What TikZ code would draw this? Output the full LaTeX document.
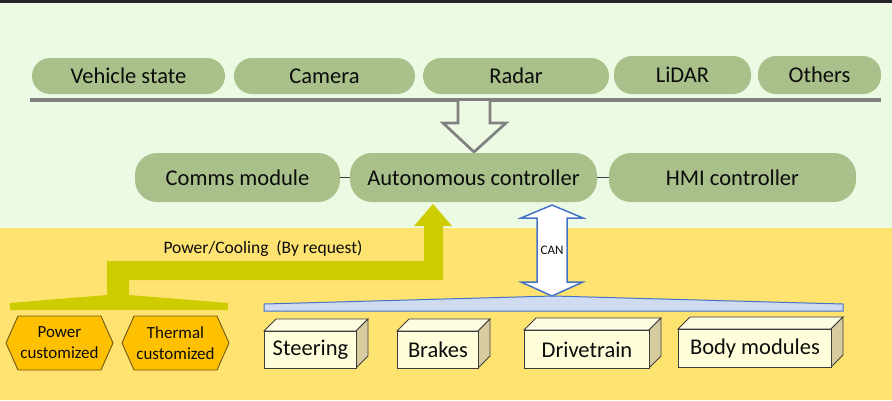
\documentclass[tikz,border=0pt]{standalone}
\usepackage{fontspec}
\setmainfont{Carlito}
\usetikzlibrary{shapes.symbols}
\definecolor{bglight}{RGB}{237,250,227}
\definecolor{bgyellow}{RGB}{255,227,112}
\definecolor{pillgreen}{RGB}{169,192,138}
\definecolor{busgray}{RGB}{128,128,128}
\definecolor{powergreen}{RGB}{204,204,0}
\definecolor{hexfill}{RGB}{255,192,0}
\definecolor{hexline}{RGB}{110,85,20}
\definecolor{busfill}{RGB}{207,219,240}
\definecolor{busline}{RGB}{68,114,196}
\definecolor{boxfront}{RGB}{255,253,218}
\definecolor{boxtop}{RGB}{255,253,225}
\definecolor{boxside}{RGB}{214,204,160}
\definecolor{inkdark}{RGB}{12,12,12}
\tikzset{
  pill/.style={fill=pillgreen, rounded corners=18pt, inner sep=0pt, text=inkdark,
    font=\fontsize{22.5}{27}\selectfont},
  bigpill/.style={pill, rounded corners=22pt, minimum height=49pt, minimum width=247pt},
  hexbox/.style={signal, signal to=west and east, signal pointer angle=132, draw=hexline,
    fill=hexfill, line width=0.9pt, minimum width=107pt, minimum height=54pt, inner sep=0pt,
    align=center, text=inkdark, font=\fontsize{17}{21}\selectfont},
  frontface/.style={draw=inkdark!80, fill=boxfront, line width=0.9pt, inner sep=0pt,
    anchor=north west, text=inkdark, font=\fontsize{22.5}{27}\selectfont}
}
% #1 name, (#2,#3) top left and (#4,#5) bottom right of the front face, #6 text
\def\partbox[#1](#2,#3)(#4,#5)#6{%
  \filldraw[draw=inkdark!80, fill=boxtop, line width=0.9pt] (#2,#3) -- ++(12,-12) -- ({#4+12},{#3-12}) -- (#4,#3) -- cycle;
  \filldraw[draw=inkdark!80, fill=boxside, line width=0.9pt] (#4,#3) -- ++(12,-12) -- ++(0,{#5-#3}) -- (#4,#5) -- cycle;
  \node[frontface, minimum width={#4-#2}, minimum height={#5-#3}] (#1) at (#2,#3) {#6};}

\begin{document}
\begin{tikzpicture}[x=1pt, y=-1pt]
			\useasboundingbox (0,0) rectangle (892,400);
			
			% backgrounds
			\fill[bglight] (0,0) rectangle (892,228);
			\fill[bgyellow] (0,228) rectangle (892,400);
			\fill[inkdark!90] (0,0) rectangle (892,3);
			
			% sensors
			\node[pill, minimum width=193pt, minimum height=36pt] (vstate) at (128.5,76) {Vehicle state};
			\node[pill, minimum width=181pt, minimum height=36pt] (camera) at (324.5,76) {Camera};
			\node[pill, minimum width=186pt, minimum height=36pt] (radar) at (516,76) {Radar};
			\node[pill, minimum width=137pt, minimum height=38pt] (lidar) at (682.5,75) {LiDAR};
			\node[pill, minimum width=123pt, minimum height=38pt] (others) at (819.5,75) {Others};
			\draw[busgray, line width=4pt] (30,100) -- (881,100);
			
			% hollow arrow down
			\filldraw[draw=busgray, fill=bglight, line width=2.7pt, line join=miter]
			(458,101) -- (458,123) -- (443,123) -- (474,152) -- (506,123) -- (490,123) -- (490,101);
			
			% controllers
			\node[bigpill, minimum width=205pt] (comms) at (237.5,177.5) {Comms module};
			\node[bigpill] (auto) at (473.5,177.5) {Autonomous controller};
			\node[bigpill] (hmi) at (732.5,177.5) {HMI controller};
			\draw[inkdark!80, line width=1.2pt] (comms.east) -- (auto.west);
			\draw[inkdark!80, line width=1.2pt] (auto.east) -- (hmi.west);
			
			% power / cooling
			\fill[powergreen] (433,204) -- (452,226) -- (443,226) -- (443,280) -- (129,280) -- (129,295)
			-- (228,303) -- (228,310) -- (10,310) -- (10,303) -- (107,295) -- (107,261) -- (424,261)
			-- (424,226) -- (414,226) -- cycle;
			\node[text=inkdark, font=\fontsize{17.5}{21}\selectfont] (powerlabel) at (263,249) {Power/Cooling\ \ (By request)};
			\node[hexbox] (power) at (59.5,343) {Power\\customized};
			\node[hexbox] (thermal) at (175.5,343) {Thermal\\customized};
			
			% CAN bus
			\filldraw[draw=busline, fill=busfill, line width=1pt] (264,311) -- (264,304) -- (553,296) -- (843,304) -- (843,311) -- cycle;
			\filldraw[draw=busline, fill=white, line width=1.5pt, line join=miter]
			(552,205) -- (583,218) -- (567,218) -- (567,282) -- (583,282) -- (552,296) -- (521,282)
			-- (537,282) -- (537,218) -- (521,218) -- cycle;
			\node[text=inkdark, font=\fontsize{13}{15}\selectfont] (can) at (552,250) {CAN};
			
			% actuators
			\partbox[steering](264,331)(356,368){Steering}
			\partbox[brakes](397,331)(478,368){Brakes}
			\partbox[drivetrain](524,330)(649,368){Drivetrain}
			\partbox[bodymods](678,329)(831,367){Body modules}
			
		\end{tikzpicture}
\end{document}
